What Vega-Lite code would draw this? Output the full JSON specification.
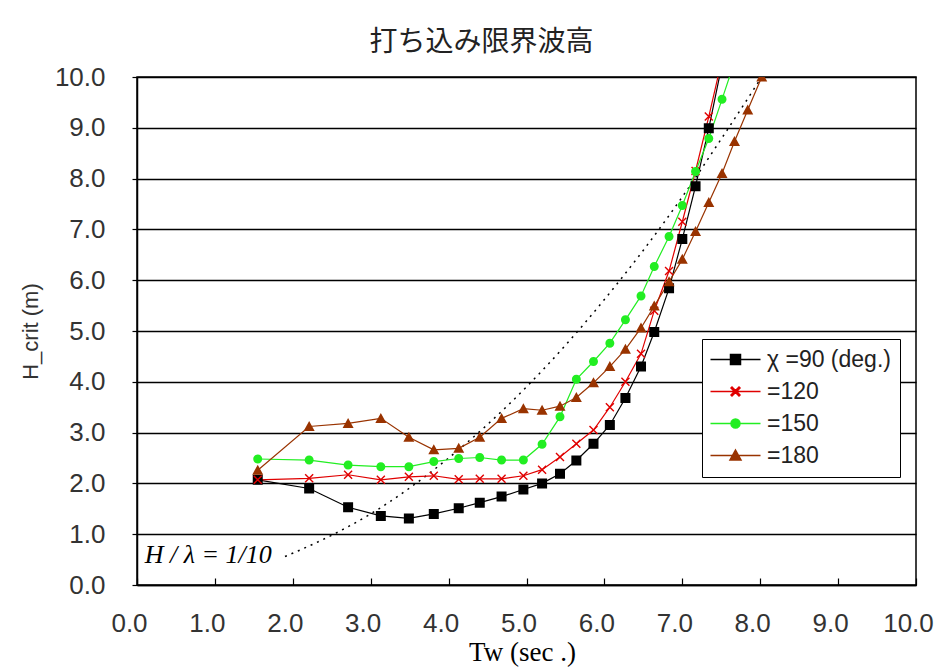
{
  "$schema": "https://vega.github.io/schema/vega-lite/v6.json",
  "width": 779,
  "height": 508,
  "autosize": {"type": "none"},
  "padding": {"left": 137, "top": 77, "right": 23, "bottom": 86},
  "background": "white",
  "title": {"text": "打ち込み限界波高", "font": "Noto Sans CJK JP", "fontSize": 28, "fontWeight": "normal", "anchor": "middle", "dx": -45, "offset": 7, "color": "#222"},
  "config": {
    "view": {"stroke": "black", "strokeWidth": 1.5},
    "axis": {"labelFont": "Liberation Sans", "labelFontSize": 26, "labelColor": "#333", "domainColor": "black", "domainWidth": 1.5, "tickColor": "black", "tickWidth": 1.2},
    "legend": {"orient": "none", "legendX": 565, "legendY": 262, "fillColor": "white", "strokeColor": "black", "padding": 9,
      "symbolSize": 400, "symbolOffset": 13, "labelOffset": 20, "rowPadding": 8, "symbolStrokeWidth": 1.5,
      "labelFont": "Liberation Sans", "labelFontSize": 23, "labelColor": "#222"}
  },
  "datasets": {
    "hcrit": [
      {"tw": 1.55, "h": 2.07, "series": "χ =90 (deg.)"},
      {"tw": 2.21, "h": 1.90, "series": "χ =90 (deg.)"},
      {"tw": 2.71, "h": 1.53, "series": "χ =90 (deg.)"},
      {"tw": 3.13, "h": 1.36, "series": "χ =90 (deg.)"},
      {"tw": 3.49, "h": 1.31, "series": "χ =90 (deg.)"},
      {"tw": 3.81, "h": 1.40, "series": "χ =90 (deg.)"},
      {"tw": 4.13, "h": 1.51, "series": "χ =90 (deg.)"},
      {"tw": 4.40, "h": 1.62, "series": "χ =90 (deg.)"},
      {"tw": 4.68, "h": 1.74, "series": "χ =90 (deg.)"},
      {"tw": 4.96, "h": 1.88, "series": "χ =90 (deg.)"},
      {"tw": 5.20, "h": 2.00, "series": "χ =90 (deg.)"},
      {"tw": 5.43, "h": 2.19, "series": "χ =90 (deg.)"},
      {"tw": 5.64, "h": 2.45, "series": "χ =90 (deg.)"},
      {"tw": 5.86, "h": 2.78, "series": "χ =90 (deg.)"},
      {"tw": 6.07, "h": 3.15, "series": "χ =90 (deg.)"},
      {"tw": 6.27, "h": 3.68, "series": "χ =90 (deg.)"},
      {"tw": 6.47, "h": 4.30, "series": "χ =90 (deg.)"},
      {"tw": 6.64, "h": 4.98, "series": "χ =90 (deg.)"},
      {"tw": 6.83, "h": 5.84, "series": "χ =90 (deg.)"},
      {"tw": 7.00, "h": 6.81, "series": "χ =90 (deg.)"},
      {"tw": 7.17, "h": 7.85, "series": "χ =90 (deg.)"},
      {"tw": 7.34, "h": 8.99, "series": "χ =90 (deg.)"},
      {"tw": 7.51, "h": 10.25, "series": "χ =90 (deg.)"},
      {"tw": 1.55, "h": 2.07, "series": "=120"},
      {"tw": 2.21, "h": 2.10, "series": "=120"},
      {"tw": 2.71, "h": 2.17, "series": "=120"},
      {"tw": 3.13, "h": 2.07, "series": "=120"},
      {"tw": 3.49, "h": 2.13, "series": "=120"},
      {"tw": 3.81, "h": 2.15, "series": "=120"},
      {"tw": 4.13, "h": 2.08, "series": "=120"},
      {"tw": 4.40, "h": 2.09, "series": "=120"},
      {"tw": 4.68, "h": 2.09, "series": "=120"},
      {"tw": 4.96, "h": 2.15, "series": "=120"},
      {"tw": 5.20, "h": 2.27, "series": "=120"},
      {"tw": 5.43, "h": 2.52, "series": "=120"},
      {"tw": 5.64, "h": 2.78, "series": "=120"},
      {"tw": 5.86, "h": 3.05, "series": "=120"},
      {"tw": 6.07, "h": 3.50, "series": "=120"},
      {"tw": 6.27, "h": 4.00, "series": "=120"},
      {"tw": 6.47, "h": 4.55, "series": "=120"},
      {"tw": 6.64, "h": 5.40, "series": "=120"},
      {"tw": 6.83, "h": 6.18, "series": "=120"},
      {"tw": 7.00, "h": 7.15, "series": "=120"},
      {"tw": 7.17, "h": 8.15, "series": "=120"},
      {"tw": 7.34, "h": 9.22, "series": "=120"},
      {"tw": 7.51, "h": 10.35, "series": "=120"},
      {"tw": 1.55, "h": 2.48, "series": "=150"},
      {"tw": 2.21, "h": 2.46, "series": "=150"},
      {"tw": 2.71, "h": 2.36, "series": "=150"},
      {"tw": 3.13, "h": 2.33, "series": "=150"},
      {"tw": 3.49, "h": 2.33, "series": "=150"},
      {"tw": 3.81, "h": 2.43, "series": "=150"},
      {"tw": 4.13, "h": 2.49, "series": "=150"},
      {"tw": 4.40, "h": 2.51, "series": "=150"},
      {"tw": 4.68, "h": 2.46, "series": "=150"},
      {"tw": 4.96, "h": 2.46, "series": "=150"},
      {"tw": 5.20, "h": 2.77, "series": "=150"},
      {"tw": 5.43, "h": 3.31, "series": "=150"},
      {"tw": 5.64, "h": 4.05, "series": "=150"},
      {"tw": 5.86, "h": 4.40, "series": "=150"},
      {"tw": 6.07, "h": 4.76, "series": "=150"},
      {"tw": 6.27, "h": 5.22, "series": "=150"},
      {"tw": 6.47, "h": 5.69, "series": "=150"},
      {"tw": 6.64, "h": 6.27, "series": "=150"},
      {"tw": 6.83, "h": 6.86, "series": "=150"},
      {"tw": 7.00, "h": 7.47, "series": "=150"},
      {"tw": 7.17, "h": 8.14, "series": "=150"},
      {"tw": 7.34, "h": 8.79, "series": "=150"},
      {"tw": 7.51, "h": 9.56, "series": "=150"},
      {"tw": 7.67, "h": 10.30, "series": "=150"},
      {"tw": 1.55, "h": 2.26, "series": "=180"},
      {"tw": 2.21, "h": 3.12, "series": "=180"},
      {"tw": 2.71, "h": 3.18, "series": "=180"},
      {"tw": 3.13, "h": 3.28, "series": "=180"},
      {"tw": 3.49, "h": 2.91, "series": "=180"},
      {"tw": 3.81, "h": 2.66, "series": "=180"},
      {"tw": 4.13, "h": 2.69, "series": "=180"},
      {"tw": 4.40, "h": 2.91, "series": "=180"},
      {"tw": 4.68, "h": 3.28, "series": "=180"},
      {"tw": 4.96, "h": 3.47, "series": "=180"},
      {"tw": 5.20, "h": 3.44, "series": "=180"},
      {"tw": 5.43, "h": 3.52, "series": "=180"},
      {"tw": 5.64, "h": 3.69, "series": "=180"},
      {"tw": 5.86, "h": 3.98, "series": "=180"},
      {"tw": 6.07, "h": 4.30, "series": "=180"},
      {"tw": 6.27, "h": 4.64, "series": "=180"},
      {"tw": 6.47, "h": 5.06, "series": "=180"},
      {"tw": 6.64, "h": 5.49, "series": "=180"},
      {"tw": 6.83, "h": 5.97, "series": "=180"},
      {"tw": 7.00, "h": 6.41, "series": "=180"},
      {"tw": 7.17, "h": 6.96, "series": "=180"},
      {"tw": 7.34, "h": 7.53, "series": "=180"},
      {"tw": 7.51, "h": 8.10, "series": "=180"},
      {"tw": 7.67, "h": 8.73, "series": "=180"},
      {"tw": 7.84, "h": 9.35, "series": "=180"},
      {"tw": 8.02, "h": 10.0, "series": "=180"}
    ],
    "steep": [
      {"tw": 1.9, "h": 0.56},
      {"tw": 2.5, "h": 0.98},
      {"tw": 3.0, "h": 1.40},
      {"tw": 3.5, "h": 1.91},
      {"tw": 4.0, "h": 2.50},
      {"tw": 4.5, "h": 3.16},
      {"tw": 5.0, "h": 3.90},
      {"tw": 5.5, "h": 4.72},
      {"tw": 6.0, "h": 5.62},
      {"tw": 6.5, "h": 6.59},
      {"tw": 7.0, "h": 7.64},
      {"tw": 7.5, "h": 8.78},
      {"tw": 8.02, "h": 10.0}
    ],
    "note": [
      {"tw": 0.1, "h": 0.6, "label": "H / λ = 1/10"}
    ]
  },
  "encoding": {
    "x": {"field": "tw", "type": "quantitative",
      "scale": {"domain": [0, 10], "nice": false, "zero": false},
      "axis": {"values": [0,1,2,3,4,5,6,7,8,9,10], "format": ".1f", "grid": false, "tickSize": -7, "labelOffset": -8, "labelPadding": 32, "labelFlush": false, "labelFontSize": 26,
        "title": "Tw (sec .)", "titleFont": "Liberation Serif", "titleFontSize": 27, "titleFontWeight": "normal", "titleColor": "black", "titleX": 385, "titleY": 67, "titleBaseline": "middle"}},
    "y": {"field": "h", "type": "quantitative",
      "scale": {"domain": [0, 10], "nice": false},
      "axis": {"values": [0,1,2,3,4,5,6,7,8,9,10], "format": ".1f", "grid": true, "gridColor": "black", "gridWidth": 1.5, "gridOpacity": 1, "tickSize": 5, "labelPadding": 27, "labelFlush": false, "labelFontSize": 26,
        "title": "H_crit (m)", "titleFont": "Liberation Sans", "titleFontSize": 22, "titleFontWeight": "normal", "titleColor": "#333", "titleX": -107, "titleY": 254, "titleBaseline": "middle", "titleAngle": -90}}
  },
  "layer": [
    {
      "data": {"name": "steep"},
      "mark": {"type": "line", "color": "black", "strokeWidth": 1.5, "strokeDash": [2, 5], "clip": true, "interpolate": "monotone"},
      "encoding": {}
    },
    {
      "data": {"name": "hcrit"},
      "mark": {"type": "line", "strokeWidth": 1.2, "clip": true},
      "encoding": {
        "color": {"field": "series", "type": "nominal",
          "scale": {"domain": ["χ =90 (deg.)", "=120", "=150", "=180"], "range": ["#000000", "#e00000", "#22ee22", "#993300"]}}
      }
    },
    {
      "data": {"name": "hcrit"},
      "mark": {"type": "point", "filled": true, "opacity": 1, "size": 400, "strokeWidth": 0, "clip": true},
      "encoding": {
        "color": {"field": "series", "type": "nominal",
          "scale": {"domain": ["χ =90 (deg.)", "=120", "=150", "=180"], "range": ["#000000", "#e00000", "#22ee22", "#993300"]},
          "legend": {"title": null,
            "encode": {
              "symbols": {"update": {"stroke": {"scale": "color", "field": "value"}, "fill": {"scale": "color", "field": "value"}, "strokeWidth": {"value": 1.5}, "opacity": {"value": 1}}}
            }}
        },
        "shape": {"field": "series", "type": "nominal",
          "scale": {"domain": ["χ =90 (deg.)", "=120", "=150", "=180"], "range": [
            "M-2.5,0H2.5M-0.5,-0.5H0.5V0.5H-0.5Z",
            "M-2.5,0H2.5M-0.45,-0.35L-0.35,-0.45L0.45,0.35L0.35,0.45ZM0.35,-0.45L0.45,-0.35L-0.35,0.45L-0.45,0.35Z",
            "M-2.5,0H2.5M0.45,0A0.45,0.45 0 1,1 -0.45,0A0.45,0.45 0 1,1 0.45,0Z",
            "M-2.5,0H2.5M0,-0.55L0.55,0.45L-0.55,0.45Z"
          ]},
          "legend": {"title": null}
        }
      }
    },
    {
      "data": {"name": "note"},
      "mark": {"type": "text", "font": "Liberation Serif", "fontSize": 26, "fontStyle": "italic", "align": "left", "baseline": "middle", "color": "black"},
      "encoding": {"text": {"field": "label"}}
    }
  ]
}
